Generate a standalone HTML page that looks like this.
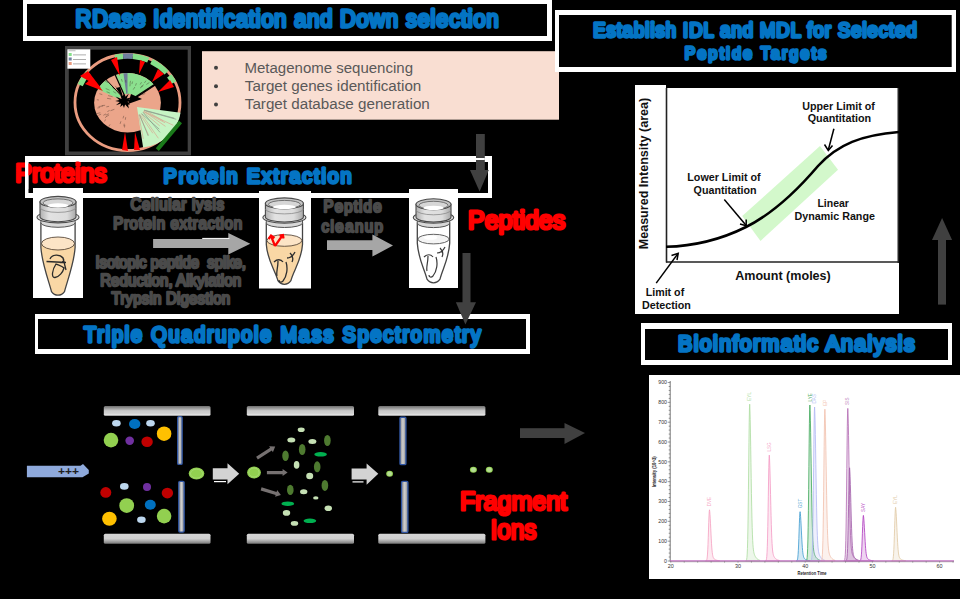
<!DOCTYPE html>
<html><head><meta charset="utf-8">
<style>
html,body{margin:0;padding:0;background:#000;}
body{width:960px;height:599px;overflow:hidden;}
svg{display:block;}
text{font-family:"Liberation Sans",sans-serif;}
.ttl{fill:#0474C4;stroke:#0474C4;stroke-width:3.3;stroke-linejoin:round;}
.red{fill:#FF0000;stroke:#FF0000;stroke-width:3;stroke-linejoin:round;}
.gt{fill:#4a4a4a;stroke:#4a4a4a;stroke-width:2.4;stroke-linejoin:round;}
.bt{fill:#595959;}
.gb{font-weight:bold;fill:#111;}
</style></head>
<body>
<svg width="960" height="599" viewBox="0 0 960 599">
<defs>
 <linearGradient id="barT" x1="0" y1="0" x2="0" y2="1">
  <stop offset="0" stop-color="#6e6e6e"/><stop offset="0.5" stop-color="#cbcbcb"/><stop offset="0.76" stop-color="#d0d0d0"/><stop offset="0.82" stop-color="#e2e2e2"/><stop offset="1" stop-color="#dcdcdc"/>
 </linearGradient>
 <linearGradient id="barB" x1="0" y1="0" x2="0" y2="1">
  <stop offset="0" stop-color="#d6d6d6"/><stop offset="0.5" stop-color="#d0d0d0"/><stop offset="1" stop-color="#767676"/>
 </linearGradient>
 <linearGradient id="elec" x1="0" y1="0" x2="1" y2="0">
  <stop offset="0" stop-color="#8a8a8a"/><stop offset="0.5" stop-color="#d0d0d0"/><stop offset="1" stop-color="#8a8a8a"/>
 </linearGradient>
 <linearGradient id="capG" x1="0" y1="0" x2="1" y2="0">
  <stop offset="0" stop-color="#b0b0b0"/><stop offset="0.25" stop-color="#e2e2e2"/><stop offset="0.75" stop-color="#dcdcdc"/><stop offset="1" stop-color="#a8a8a8"/>
 </linearGradient>
</defs>
<rect width="960" height="599" fill="#000"/>

<!-- ===== Box 1: RDase title ===== -->
<rect x="23" y="0" width="529" height="41" fill="#fff"/>
<rect x="27" y="4" width="520" height="32" fill="#000"/>

<!-- ===== Tree ===== -->
<g id="tree">
<rect x="65" y="46" width="126" height="109.3" fill="#404040"/>
<rect x="68.8" y="49.7" width="118.9" height="101.8" fill="#000"/>
<ellipse cx="127.5" cy="102.5" rx="52.5" ry="48" fill="none" stroke="#EA9C80" stroke-width="2.8"/>
<path d="M80.21,85.08 A51.00,46.50 0 0 1 88.43,72.61" fill="none" stroke="#86E08A" stroke-width="5.5"/>
<path d="M115.16,57.38 A51.00,46.50 0 0 1 123.06,56.18" fill="none" stroke="#86E08A" stroke-width="5.5"/>
<path d="M123.06,56.18 A51.00,46.50 0 0 1 132.83,56.25" fill="none" stroke="#6F7F9F" stroke-width="5.5"/>
<path d="M132.83,56.25 A51.00,46.50 0 0 1 148.24,60.02" fill="none" stroke="#86E08A" stroke-width="5.5"/>
<path d="M151.44,61.44 A51.00,46.50 0 0 1 166.57,72.61" fill="none" stroke="#86E08A" stroke-width="5.5"/>
<path d="M169.28,75.83 A51.00,46.50 0 0 1 173.72,82.85" fill="none" stroke="#86E08A" stroke-width="5.5"/>
<ellipse cx="127.5" cy="102.8" rx="33.4" ry="29.7" fill="#EBA58A"/>
<path d="M97.74,89.32 A33.40,29.70 0 0 1 106.03,80.05 L121.07,95.91 A10.00,9.00 0 0 0 118.59,98.71 Z" fill="#8BE08E"/>
<path d="M116.08,74.89 A33.40,29.70 0 0 1 153.82,84.51 L135.38,97.26 A10.00,9.00 0 0 0 124.08,94.34 Z" fill="#8BE08E"/>
<path d="M123.43,73.32 A33.40,29.70 0 0 1 127.50,73.10 L127.50,93.80 A10.00,9.00 0 0 0 126.28,93.87 Z" fill="#6F7C98"/>
<line x1="123.6" y1="98.2" x2="105.6" y2="79.1" stroke="#000" stroke-width="1.0"/>
<line x1="125.3" y1="97.2" x2="114.8" y2="74.1" stroke="#000" stroke-width="1.2"/>
<line x1="132.4" y1="99.3" x2="155.0" y2="84.6" stroke="#000" stroke-width="2.0"/>
<path d="M137.00,107.00 L180.57,112.71 A44.00,41.00 0 0 1 143.12,147.60 Z" fill="#C6F4C4"/>
<line x1="141.3" y1="113.7" x2="158.4" y2="138.3" stroke="#D8A890" stroke-width="0.7"/>
<line x1="139.3" y1="114.7" x2="148.6" y2="135.2" stroke="#D8A890" stroke-width="0.7"/>
<line x1="138.7" y1="114.8" x2="143.3" y2="138.8" stroke="#D8A890" stroke-width="0.7"/>
<line x1="143.1" y1="112.1" x2="159.8" y2="125.9" stroke="#D8A890" stroke-width="0.7"/>
<line x1="143.0" y1="112.3" x2="160.0" y2="132.4" stroke="#8a9a8a" stroke-width="0.7"/>
<line x1="144.3" y1="110.2" x2="174.3" y2="118.2" stroke="#8a9a8a" stroke-width="0.7"/>
<line x1="144.5" y1="109.9" x2="163.1" y2="120.8" stroke="#D8A890" stroke-width="0.7"/>
<line x1="139.9" y1="114.4" x2="152.9" y2="133.3" stroke="#D8A890" stroke-width="0.7"/>
<line x1="143.7" y1="111.4" x2="173.3" y2="125.3" stroke="#D8A890" stroke-width="0.7"/>
<line x1="144.2" y1="110.4" x2="176.3" y2="119.3" stroke="#8a9a8a" stroke-width="0.7"/>
<line x1="143.6" y1="111.5" x2="165.1" y2="122.8" stroke="#D8A890" stroke-width="0.7"/>
<line x1="143.8" y1="111.2" x2="165.5" y2="126.4" stroke="#D8A890" stroke-width="0.7"/>
<line x1="141.5" y1="113.6" x2="159.3" y2="129.2" stroke="#8a9a8a" stroke-width="0.7"/>
<line x1="139.5" y1="114.6" x2="148.2" y2="135.9" stroke="#8a9a8a" stroke-width="0.7"/>
<polygon points="131.9,101.0 127.4,101.8 130.1,104.2 128.1,104.7 128.9,108.6 125.1,104.5 124.0,107.9 122.8,105.0 120.2,107.0 121.1,103.6 115.9,105.2 119.8,102.0 115.2,101.0 119.3,99.9 115.5,96.6 121.6,98.9 120.5,95.6 122.6,96.3 124.0,93.9 125.2,97.1 128.8,93.5 126.7,98.6 130.8,97.5 128.6,99.9" fill="#000"/>
<polygon points="116,88 120,87 124,100" fill="#000"/>
<polygon points="131,94 142,99 128,104" fill="#000"/>
<line x1="121.1" y1="85.9" x2="120.1" y2="83.3" stroke="#3a2a22" stroke-width="0.7" stroke-opacity="0.55"/>
<line x1="110.1" y1="124.4" x2="108.6" y2="126.6" stroke="#3a2a22" stroke-width="0.7" stroke-opacity="0.55"/>
<line x1="109.6" y1="110.4" x2="107.4" y2="111.6" stroke="#3a2a22" stroke-width="0.7" stroke-opacity="0.55"/>
<line x1="116.2" y1="93.3" x2="113.2" y2="91.5" stroke="#3a2a22" stroke-width="0.7" stroke-opacity="0.55"/>
<line x1="122.3" y1="81.7" x2="121.4" y2="79.0" stroke="#3a2a22" stroke-width="0.7" stroke-opacity="0.55"/>
<line x1="106.8" y1="116.2" x2="105.0" y2="117.8" stroke="#3a2a22" stroke-width="0.7" stroke-opacity="0.55"/>
<line x1="98.9" y1="100.0" x2="96.8" y2="99.7" stroke="#3a2a22" stroke-width="0.7" stroke-opacity="0.55"/>
<line x1="116.8" y1="88.1" x2="115.3" y2="85.9" stroke="#3a2a22" stroke-width="0.7" stroke-opacity="0.55"/>
<line x1="112.6" y1="96.7" x2="108.1" y2="95.6" stroke="#3a2a22" stroke-width="0.7" stroke-opacity="0.55"/>
<line x1="102.3" y1="94.6" x2="99.4" y2="93.7" stroke="#3a2a22" stroke-width="0.7" stroke-opacity="0.55"/>
<line x1="146.0" y1="90.4" x2="147.9" y2="88.8" stroke="#3a2a22" stroke-width="0.7" stroke-opacity="0.55"/>
<line x1="135.5" y1="85.7" x2="136.4" y2="83.2" stroke="#3a2a22" stroke-width="0.7" stroke-opacity="0.55"/>
<line x1="123.8" y1="115.8" x2="123.0" y2="118.4" stroke="#3a2a22" stroke-width="0.7" stroke-opacity="0.55"/>
<line x1="140.2" y1="84.5" x2="141.5" y2="82.2" stroke="#3a2a22" stroke-width="0.7" stroke-opacity="0.55"/>
<line x1="100.3" y1="112.7" x2="96.5" y2="113.7" stroke="#3a2a22" stroke-width="0.7" stroke-opacity="0.55"/>
<line x1="106.0" y1="119.5" x2="104.2" y2="121.3" stroke="#3a2a22" stroke-width="0.7" stroke-opacity="0.55"/>
<line x1="125.9" y1="82.6" x2="125.7" y2="79.9" stroke="#3a2a22" stroke-width="0.7" stroke-opacity="0.55"/>
<line x1="144.4" y1="82.9" x2="146.0" y2="80.7" stroke="#3a2a22" stroke-width="0.7" stroke-opacity="0.55"/>
<line x1="108.8" y1="113.7" x2="105.8" y2="115.2" stroke="#3a2a22" stroke-width="0.7" stroke-opacity="0.55"/>
<line x1="114.4" y1="109.3" x2="110.5" y2="110.7" stroke="#3a2a22" stroke-width="0.7" stroke-opacity="0.55"/>
<line x1="124.2" y1="123.7" x2="123.9" y2="126.3" stroke="#3a2a22" stroke-width="0.7" stroke-opacity="0.55"/>
<line x1="103.1" y1="106.1" x2="98.6" y2="106.5" stroke="#3a2a22" stroke-width="0.7" stroke-opacity="0.55"/>
<line x1="147.9" y1="89.1" x2="151.8" y2="87.4" stroke="#3a2a22" stroke-width="0.7" stroke-opacity="0.55"/>
<line x1="130.0" y1="83.5" x2="130.5" y2="80.8" stroke="#3a2a22" stroke-width="0.7" stroke-opacity="0.55"/>
<line x1="106.0" y1="113.9" x2="103.4" y2="115.3" stroke="#3a2a22" stroke-width="0.7" stroke-opacity="0.55"/>
<line x1="140.0" y1="88.1" x2="142.9" y2="86.0" stroke="#3a2a22" stroke-width="0.7" stroke-opacity="0.55"/>
<line x1="131.9" y1="84.1" x2="132.6" y2="81.5" stroke="#3a2a22" stroke-width="0.7" stroke-opacity="0.55"/>
<line x1="141.2" y1="93.5" x2="143.7" y2="91.8" stroke="#3a2a22" stroke-width="0.7" stroke-opacity="0.55"/>
<line x1="129.9" y1="86.3" x2="130.2" y2="83.6" stroke="#3a2a22" stroke-width="0.7" stroke-opacity="0.55"/>
<line x1="109.9" y1="93.1" x2="106.6" y2="91.7" stroke="#3a2a22" stroke-width="0.7" stroke-opacity="0.55"/>
<line x1="140.9" y1="86.8" x2="143.8" y2="84.7" stroke="#3a2a22" stroke-width="0.7" stroke-opacity="0.55"/>
<line x1="100.1" y1="107.5" x2="97.4" y2="108.0" stroke="#3a2a22" stroke-width="0.7" stroke-opacity="0.55"/>
<line x1="142.1" y1="94.8" x2="145.3" y2="93.4" stroke="#3a2a22" stroke-width="0.7" stroke-opacity="0.55"/>
<line x1="111.2" y1="99.0" x2="107.0" y2="98.3" stroke="#3a2a22" stroke-width="0.7" stroke-opacity="0.55"/>
<line x1="107.8" y1="82.7" x2="104.6" y2="80.7" stroke="#3a2a22" stroke-width="0.7" stroke-opacity="0.55"/>
<line x1="133.2" y1="89.6" x2="134.9" y2="87.0" stroke="#3a2a22" stroke-width="0.7" stroke-opacity="0.55"/>
<line x1="109.1" y1="114.9" x2="106.5" y2="116.5" stroke="#3a2a22" stroke-width="0.7" stroke-opacity="0.55"/>
<line x1="124.8" y1="124.8" x2="124.5" y2="127.5" stroke="#3a2a22" stroke-width="0.7" stroke-opacity="0.55"/>
<line x1="114.3" y1="89.3" x2="112.2" y2="87.3" stroke="#3a2a22" stroke-width="0.7" stroke-opacity="0.55"/>
<line x1="146.3" y1="84.5" x2="149.4" y2="82.5" stroke="#3a2a22" stroke-width="0.7" stroke-opacity="0.55"/>
<line x1="109.6" y1="90.2" x2="105.7" y2="88.5" stroke="#3a2a22" stroke-width="0.7" stroke-opacity="0.55"/>
<line x1="109.1" y1="106.3" x2="106.3" y2="106.9" stroke="#3a2a22" stroke-width="0.7" stroke-opacity="0.55"/>
<line x1="101.1" y1="114.1" x2="98.5" y2="115.3" stroke="#3a2a22" stroke-width="0.7" stroke-opacity="0.55"/>
<line x1="125.7" y1="117.2" x2="125.3" y2="119.8" stroke="#3a2a22" stroke-width="0.7" stroke-opacity="0.55"/>
<line x1="105.1" y1="105.3" x2="101.7" y2="105.6" stroke="#3a2a22" stroke-width="0.7" stroke-opacity="0.55"/>
<line x1="120.9" y1="121.3" x2="120.1" y2="123.9" stroke="#3a2a22" stroke-width="0.7" stroke-opacity="0.55"/>
<polygon points="80,76 88,71 101,88" fill="#FF0000"/>
<polygon points="85,84 92,78 103,91" fill="#FF0000"/>
<polygon points="111,60 117,57 120,76" fill="#FF0000"/>
<polygon points="140,60 145,62 139,74" fill="#FF0000"/>
<polygon points="158,69 164,74 152,82" fill="#FF0000"/>
<polygon points="170,80 174,87 158,92" fill="#FF0000"/>
<polygon points="122,150 128,151 125,132" fill="#FF0000"/>
<polygon points="134,150 140,150 135,132" fill="#FF0000"/>
<line x1="180.5" y1="122" x2="157.3" y2="149.6" stroke="#1A7A1A" stroke-width="4"/>
<rect x="67.4" y="49.3" width="22.9" height="19.4" fill="#fff"/>
<rect x="68.7" y="53" width="3" height="3" fill="#86E08A"/>
<rect x="68.7" y="57.5" width="3" height="3" fill="#6F7F9F"/>
<rect x="68.7" y="62" width="3" height="3" fill="#EA9C80"/>
<rect x="73" y="54.5" width="13" height="0.8" fill="#999"/>
<rect x="73" y="59.0" width="13" height="0.8" fill="#999"/>
<rect x="73" y="63.5" width="13" height="0.8" fill="#999"/>
<rect x="68.5" y="50.4" width="7" height="0.8" fill="#aaa"/>
</g>
<!-- ===== Pink bullet box ===== -->
<rect x="202" y="51.2" width="357" height="68.5" fill="#F9DED2"/>

<!-- ===== Box 2: Establish ===== -->
<rect x="555" y="10" width="401" height="62" fill="#fff"/>
<rect x="559" y="15" width="392.7" height="52" fill="#000"/>

<!-- ===== Protein Extraction box ===== -->
<rect x="25" y="156" width="467" height="42" fill="#fff"/>
<rect x="28.5" y="162" width="459.5" height="31" fill="#000"/>

<!-- ===== Triple Quad box ===== -->
<rect x="35" y="314" width="495" height="40" fill="#fff"/>
<rect x="38" y="319" width="488" height="30" fill="#000"/>

<!-- ===== Bioinformatic box ===== -->
<rect x="641" y="323" width="311" height="42" fill="#fff"/>
<rect x="645" y="329" width="303" height="31" fill="#000"/>

<!-- ===== Tubes ===== -->
<g id="tubes">
<rect x="33.0" y="188.0" width="50.0" height="110.0" fill="#fff"/>
<path d="M40.9,243.5 L40.9,247.5 C41.9,263.5 49.0,281.6 51.5,291.6 C55.0,296.4 61.0,296.4 64.5,291.6 C67.0,281.6 74.1,263.5 75.1,247.5 L75.1,243.5 Z" fill="#F9D7A5"/>
<ellipse cx="58.0" cy="243.5" rx="16.5" ry="6.5" fill="#FCE4C6" stroke="#5a4a3a" stroke-width="0.9"/>
<path d="M40.9,222.3 L40.9,247.5 C41.9,263.5 49.0,281.6 51.5,291.6 C55.0,296.4 61.0,296.4 64.5,291.6 C67.0,281.6 74.1,263.5 75.1,247.5 L75.1,222.3" fill="none" stroke="#444" stroke-width="1.3"/>
<path d="M40.9,217.3 L40.9,222.8 A17.1,4.5 0 0 0 75.1,222.8 L75.1,217.3 Z" fill="#d8d8d8" stroke="#555" stroke-width="1"/>
<ellipse cx="58.0" cy="217.3" rx="21.0" ry="5.6" fill="#e4e4e4" stroke="#4a4a4a" stroke-width="1.1"/>
<path d="M40.0,201.9 L40.0,216.8 A18.0,5 0 0 0 76.0,216.8 L76.0,201.9 Z" fill="url(#capG)" stroke="#4a4a4a" stroke-width="1.1"/>
<path d="M40.0,207.4 A18.0,5 0 0 0 76.0,207.4" fill="none" stroke="#8a8a8a" stroke-width="0.8"/>
<ellipse cx="58.0" cy="201.9" rx="18.0" ry="5.5" fill="#c4c4c4" stroke="#4a4a4a" stroke-width="1.1"/>
<ellipse cx="58.0" cy="202.9" rx="15.0" ry="4" fill="#d6d6d6" stroke="#666" stroke-width="0.9"/>
<ellipse cx="58.0" cy="205.5" rx="10.5" ry="2.2" fill="#fff"/>
<path d="M50,259 C52,254 60,254 63,258 C65,261 62,264 58,262 M46.5,261.5 L66,262.5 M56,264 C52,270 51,278 55,277.5 C59,277 63,272 64,268 C62,266 58,265 56,264 Z M63,258 L66,270" fill="none" stroke="#2a2a2a" stroke-width="1.3"/>

<rect x="259.0" y="191.0" width="52.0" height="97.5" fill="#fff"/>
<path d="M266.3,240.5 L266.3,244.5 C267.3,260.5 275.4,270.7 277.9,280.7 C281.4,285.5 287.4,285.5 290.9,280.7 C293.4,270.7 301.5,260.5 302.5,244.5 L302.5,240.5 Z" fill="#F9D7A5"/>
<ellipse cx="284.4" cy="240.5" rx="17.5" ry="5.8" fill="#FCE4C6" stroke="#5a4a3a" stroke-width="0.9"/>
<path d="M266.3,222.5 L266.3,244.5 C267.3,260.5 275.4,270.7 277.9,280.7 C281.4,285.5 287.4,285.5 290.9,280.7 C293.4,270.7 301.5,260.5 302.5,244.5 L302.5,222.5" fill="none" stroke="#444" stroke-width="1.3"/>
<path d="M266.3,217.5 L266.3,223.0 A18.1,4.5 0 0 0 302.5,223.0 L302.5,217.5 Z" fill="#d8d8d8" stroke="#555" stroke-width="1"/>
<ellipse cx="284.4" cy="217.5" rx="21.5" ry="5.6" fill="#e4e4e4" stroke="#4a4a4a" stroke-width="1.1"/>
<path d="M265.4,203.4 L265.4,217.0 A19.0,5 0 0 0 303.4,217.0 L303.4,203.4 Z" fill="url(#capG)" stroke="#4a4a4a" stroke-width="1.1"/>
<path d="M265.4,208.9 A19.0,5 0 0 0 303.4,208.9" fill="none" stroke="#8a8a8a" stroke-width="0.8"/>
<ellipse cx="284.4" cy="203.4" rx="19.0" ry="5.5" fill="#c4c4c4" stroke="#4a4a4a" stroke-width="1.1"/>
<ellipse cx="284.4" cy="204.4" rx="16.0" ry="4" fill="#d6d6d6" stroke="#666" stroke-width="0.9"/>
<ellipse cx="284.4" cy="207.0" rx="11.5" ry="2.2" fill="#fff"/>
<path d="M274,262 C277,259 281,259 283,262 M278,261 C278,268 276,272 277,276 M286,262 C288,268 287,276 283,281 C281,283 279,282 279,280 M287,258 C290,258 293,256 295,252 M290,253 C292,255 294,258 292,262" fill="none" stroke="#2e2e2e" stroke-width="1.3"/>
<path d="M275,246 L271,236 M268.5,239 L271,235.5 L274.5,238 M275,246 L282,236 M279.5,235.5 L283,235 L283.5,238.5" fill="none" stroke="#FF0000" stroke-width="2.2"/>
<rect x="409.0" y="189.0" width="49.0" height="99.0" fill="#fff"/>
<ellipse cx="433.5" cy="239.1" rx="15.6" ry="4.8" fill="#f4f4f4" stroke="#555" stroke-width="0.9"/>
<ellipse cx="430.5" cy="237.6" rx="7.0" ry="2.2" fill="#fff"/>
<path d="M417.3,222.6 L417.3,243.1 C418.3,259.1 424.5,269.2 427.0,279.2 C430.5,284.0 436.5,284.0 440.0,279.2 C442.5,269.2 448.7,259.1 449.7,243.1 L449.7,222.6" fill="none" stroke="#444" stroke-width="1.3"/>
<path d="M417.3,217.6 L417.3,223.1 A16.2,4.5 0 0 0 449.7,223.1 L449.7,217.6 Z" fill="#d8d8d8" stroke="#555" stroke-width="1"/>
<ellipse cx="433.5" cy="217.6" rx="20.2" ry="5.6" fill="#e4e4e4" stroke="#4a4a4a" stroke-width="1.1"/>
<path d="M416.0,204.3 L416.0,217.1 A17.5,5 0 0 0 451.0,217.1 L451.0,204.3 Z" fill="url(#capG)" stroke="#4a4a4a" stroke-width="1.1"/>
<path d="M416.0,209.8 A17.5,5 0 0 0 451.0,209.8" fill="none" stroke="#8a8a8a" stroke-width="0.8"/>
<ellipse cx="433.5" cy="204.3" rx="17.5" ry="5.5" fill="#c4c4c4" stroke="#4a4a4a" stroke-width="1.1"/>
<ellipse cx="433.5" cy="205.3" rx="14.5" ry="4" fill="#d6d6d6" stroke="#666" stroke-width="0.9"/>
<ellipse cx="433.5" cy="207.9" rx="10.0" ry="2.2" fill="#fff"/>
<path d="M424,257 C427,254 431,254 433,257 M428,256 C428,263 426,267 427,271 M436,257 C438,263 437,271 433,276 C431,278 429,277 429,275 M437,253 C440,253 443,251 445,247 M440,248 C442,250 444,253 442,257" fill="none" stroke="#3a3a3a" stroke-width="1.2"/>

</g>
<!-- ===== Graph white ===== -->
<rect x="635" y="85" width="264" height="229" fill="#fff"/>

<!-- ===== Chromatogram white ===== -->
<rect x="649" y="375" width="311" height="204" fill="#fff"/>


<!-- ===== Titles ===== -->
<!--TT_START-->
<text class="ttl" transform="scale(0.940,1)" x="80.43" y="27.32" font-size="23.22" textLength="450.02" lengthAdjust="spacing">RDase Identification and Down selection</text>
<text class="ttl" transform="scale(0.940,1)" x="631.09" y="36.56" font-size="19.60" textLength="344.04" lengthAdjust="spacing">Establish IDL and MDL for Selected</text>
<text class="ttl" transform="scale(0.940,1)" x="728.45" y="59.48" font-size="16.65" textLength="150.49" lengthAdjust="spacing">Peptide Targets</text>
<text class="ttl" transform="scale(0.940,1)" x="174.00" y="183.32" font-size="21.10" textLength="200.06" lengthAdjust="spacing">Protein Extraction</text>
<text class="ttl" transform="scale(0.940,1)" x="89.38" y="342.20" font-size="21.15" textLength="421.98" lengthAdjust="spacing">Triple Quadrupole Mass Spectrometry</text>
<text class="ttl" transform="scale(0.940,1)" x="721.36" y="351.40" font-size="22.81" textLength="251.64" lengthAdjust="spacing">Bioinformatic Analysis</text>
<text class="red" x="15.38" y="181.68" font-size="24.88" textLength="91.44" lengthAdjust="spacingAndGlyphs">Proteins</text>
<text class="red" x="468.00" y="229.20" font-size="25.02" textLength="97.20" lengthAdjust="spacingAndGlyphs">Peptides</text>
<text class="red" x="460.00" y="509.56" font-size="26.70" textLength="107.02" lengthAdjust="spacingAndGlyphs">Fragment</text>
<text class="red" x="490.38" y="539.20" font-size="27.26" textLength="45.96" lengthAdjust="spacingAndGlyphs">Ions</text>
<!--TT_END-->

<!-- ===== Red labels ===== -->

<!-- ===== Bullets ===== -->
<g class="bt" font-size="14.9">
<circle cx="216" cy="67.8" r="2" fill="#404040"/>
<circle cx="216" cy="86.3" r="2" fill="#404040"/>
<circle cx="216" cy="104.6" r="2" fill="#404040"/>
<text x="244.5" y="72.7" textLength="168.5" lengthAdjust="spacingAndGlyphs">Metagenome sequencing</text>
<text x="244.8" y="91.2" textLength="176.5" lengthAdjust="spacingAndGlyphs">Target genes identification</text>
<text x="244.8" y="109.4" textLength="185" lengthAdjust="spacingAndGlyphs">Target database generation</text>
</g>

<!-- ===== Graph ===== -->
<g>
<rect x="666" y="85" width="233" height="3" fill="#000"/>
<polygon points="820,146 838,169.7 760.5,241 742.2,216" fill="#D3F8CB"/>
<line x1="666.5" y1="88" x2="666.5" y2="262.5" stroke="#222" stroke-width="1.6"/>
<line x1="666" y1="262" x2="899" y2="262" stroke="#222" stroke-width="1.6"/>
<line x1="898.3" y1="88" x2="898.3" y2="263" stroke="#222" stroke-width="1.6"/>
<path d="M666,246.8 C690,246.2 718,241 746,227 C770,215 795,193 818,166 C838,144 862,135 899,132" fill="none" stroke="#000" stroke-width="2.6"/>
<g stroke="#000" stroke-width="1.5" fill="none">
<line x1="833.9" y1="128.8" x2="828.4" y2="149.5"/>
<path d="M824.5,144.5 L828.3,150.5 L832.5,145.5"/>
<line x1="724.3" y1="199.6" x2="745.8" y2="225"/>
<path d="M740,224 L746.2,225.8 L746.2,219.5"/>
<line x1="656.2" y1="283.1" x2="677.8" y2="253.8"/>
<path d="M671.5,255.5 L678.2,253.4 L677,260"/>
</g>
<g class="gb" font-size="10.6" fill="#111">
<text x="802.3" y="110.3" textLength="72.5" lengthAdjust="spacingAndGlyphs">Upper Limit of</text>
<text x="807.7" y="122.4" textLength="63.5" lengthAdjust="spacingAndGlyphs">Quantitation</text>
<text x="687.3" y="181.1" textLength="73.3" lengthAdjust="spacingAndGlyphs">Lower Limit of</text>
<text x="693.6" y="193.6" textLength="63" lengthAdjust="spacingAndGlyphs">Quantitation</text>
<text x="817.4" y="206.5" textLength="31.5" lengthAdjust="spacingAndGlyphs">Linear</text>
<text x="794.6" y="219.7" textLength="80.3" lengthAdjust="spacingAndGlyphs">Dynamic Range</text>
<text x="645.7" y="296.3" textLength="38.5" lengthAdjust="spacingAndGlyphs">Limit of</text>
<text x="641.9" y="308.5" textLength="49" lengthAdjust="spacingAndGlyphs">Detection</text>
<text x="735.2" y="280.3" font-size="12.8" textLength="95.6" lengthAdjust="spacingAndGlyphs">Amount (moles)</text>
<text transform="translate(648,249.3) rotate(-90)" x="0" y="0" font-size="12.3" textLength="151.5" lengthAdjust="spacingAndGlyphs">Measured Intensity (area)</text>
</g>
</g>

<!-- ===== Dark arrows ===== -->
<g fill="#404040">
<rect x="476" y="134" width="8.8" height="37"/>
<polygon points="470,170.1 488.8,170.1 479.6,191.6"/>
<rect x="462.5" y="253" width="8" height="50"/>
<polygon points="455.9,302.3 476,302.3 465.4,324.6"/>
<rect x="938" y="239" width="8" height="65.6"/>
<polygon points="932,240 952.1,240 942.1,218"/>
<rect x="520" y="428.2" width="45" height="9.8"/>
<polygon points="564.5,422.9 585,433.1 564.5,443.9"/>
</g>
<rect x="476" y="158" width="8.8" height="2" fill="#fff"/>
<!-- ===== Chromatogram ===== -->
<g id="chrom">
<path d="M705.50,561.00 L705.50,560.98 L705.75,560.95 L706.00,560.89 L706.25,560.74 L706.50,560.43 L706.75,559.83 L707.00,558.75 L707.25,556.93 L707.50,554.07 L707.75,549.93 L708.00,544.38 L708.25,537.56 L708.50,529.95 L708.75,522.35 L709.00,515.82 L709.25,511.38 L709.50,509.80 L709.75,511.68 L710.00,514.78 L710.25,518.89 L710.50,523.72 L710.75,528.90 L711.00,534.08 L711.25,538.95 L711.50,543.31 L711.75,547.03 L712.00,550.06 L712.25,552.46 L712.50,554.28 L712.75,555.65 L713.00,556.64 L713.25,557.38 L713.50,557.91 L713.75,558.32 L714.00,558.64 L714.25,558.89 L714.50,559.11 L714.75,559.29 L715.00,559.45 L715.25,559.60 L715.50,559.73 L715.75,559.84 L716.00,559.95 L716.25,560.05 L716.50,560.13 L716.75,560.21 L717.00,560.28 L717.25,560.35 L717.50,560.41 L717.75,560.46 L718.00,560.51 L718.25,560.56 L718.50,560.60 L718.75,560.64 L719.00,560.67 L719.25,560.70 L719.50,560.73 L719.50,561.00 Z" fill="#F5A0C0" fill-opacity="0.22" stroke="#F5A0C0" stroke-width="0.9" stroke-opacity="0.9"/>
<text transform="translate(711.1,506.3) rotate(-90)" font-size="4.6" fill="#F5A0C0" fill-opacity="0.9">DVE</text>
<path d="M745.70,561.00 L745.70,560.95 L745.95,560.86 L746.20,560.66 L746.45,560.20 L746.70,559.26 L746.95,557.43 L747.20,554.11 L747.45,548.53 L747.70,539.78 L747.95,527.09 L748.20,510.09 L748.45,489.21 L748.70,465.90 L748.95,442.64 L749.20,422.62 L749.45,409.02 L749.70,404.20 L749.95,409.95 L750.20,419.44 L750.45,432.05 L750.70,446.83 L750.95,462.69 L751.20,478.55 L751.45,493.48 L751.70,506.82 L751.95,518.20 L752.20,527.51 L752.45,534.84 L752.70,540.43 L752.95,544.60 L753.20,547.66 L753.45,549.90 L753.70,551.55 L753.95,552.79 L754.20,553.76 L754.45,554.54 L754.70,555.20 L754.95,555.76 L755.20,556.26 L755.45,556.70 L755.70,557.10 L755.95,557.46 L756.20,557.78 L756.45,558.08 L756.70,558.35 L756.95,558.59 L757.20,558.81 L757.45,559.01 L757.70,559.19 L757.95,559.36 L758.20,559.51 L758.45,559.65 L758.70,559.77 L758.95,559.88 L759.20,559.99 L759.45,560.08 L759.70,560.16 L759.70,561.00 Z" fill="#ACDCA0" fill-opacity="0.22" stroke="#ACDCA0" stroke-width="0.9" stroke-opacity="0.9"/>
<text transform="translate(751.3,400.7) rotate(-90)" font-size="4.6" fill="#ACDCA0" fill-opacity="0.9">EYL</text>
<path d="M765.30,561.00 L765.30,560.96 L765.55,560.91 L765.80,560.77 L766.05,560.46 L766.30,559.82 L766.55,558.59 L766.80,556.35 L767.05,552.57 L767.30,546.67 L767.55,538.10 L767.80,526.62 L768.05,512.52 L768.30,496.77 L768.55,481.06 L768.80,467.54 L769.05,458.36 L769.30,455.10 L769.55,458.98 L769.80,465.39 L770.05,473.91 L770.30,483.89 L770.55,494.60 L770.80,505.31 L771.05,515.40 L771.30,524.41 L771.55,532.10 L771.80,538.38 L772.05,543.33 L772.30,547.11 L772.55,549.93 L772.80,551.99 L773.05,553.50 L773.30,554.62 L773.55,555.46 L773.80,556.11 L774.05,556.64 L774.30,557.08 L774.55,557.46 L774.80,557.80 L775.05,558.10 L775.30,558.36 L775.55,558.61 L775.80,558.83 L776.05,559.03 L776.30,559.21 L776.55,559.37 L776.80,559.52 L777.05,559.66 L777.30,559.78 L777.55,559.89 L777.80,559.99 L778.05,560.09 L778.30,560.17 L778.55,560.25 L778.80,560.31 L779.05,560.38 L779.30,560.43 L779.30,561.00 Z" fill="#F49AC4" fill-opacity="0.22" stroke="#F49AC4" stroke-width="0.9" stroke-opacity="0.9"/>
<text transform="translate(770.9,451.6) rotate(-90)" font-size="4.6" fill="#F49AC4" fill-opacity="0.9">LSG</text>
<path d="M796.10,561.00 L796.10,560.98 L796.35,560.96 L796.60,560.89 L796.85,560.75 L797.10,560.45 L797.35,559.88 L797.60,558.83 L797.85,557.08 L798.10,554.33 L798.35,550.34 L798.60,544.99 L798.85,538.43 L799.10,531.10 L799.35,523.79 L799.60,517.49 L799.85,513.22 L800.10,511.70 L800.35,513.51 L800.60,516.49 L800.85,520.46 L801.10,525.10 L801.35,530.09 L801.60,535.08 L801.85,539.77 L802.10,543.97 L802.35,547.54 L802.60,550.47 L802.85,552.77 L803.10,554.53 L803.35,555.84 L803.60,556.81 L803.85,557.51 L804.10,558.03 L804.35,558.42 L804.60,558.72 L804.85,558.97 L805.10,559.18 L805.35,559.35 L805.60,559.51 L805.85,559.65 L806.10,559.77 L806.35,559.89 L806.60,559.99 L806.85,560.08 L807.10,560.17 L807.35,560.24 L807.60,560.31 L807.85,560.37 L808.10,560.43 L808.35,560.48 L808.60,560.53 L808.85,560.57 L809.10,560.61 L809.35,560.65 L809.60,560.68 L809.85,560.71 L810.10,560.74 L810.10,561.00 Z" fill="#3D9BD0" fill-opacity="0.22" stroke="#3D9BD0" stroke-width="0.9" stroke-opacity="0.9"/>
<text transform="translate(801.7,508.2) rotate(-90)" font-size="4.6" fill="#3D9BD0" fill-opacity="0.9">GST</text>
<path d="M805.90,561.00 L805.90,560.95 L806.15,560.86 L806.40,560.66 L806.65,560.21 L806.90,559.27 L807.15,557.44 L807.40,554.15 L807.65,548.59 L807.90,539.89 L808.15,527.26 L808.40,510.35 L808.65,489.58 L808.90,466.38 L809.15,443.25 L809.40,423.33 L809.65,409.80 L809.90,405.00 L810.15,410.72 L810.40,420.16 L810.65,432.71 L810.90,447.42 L811.15,463.19 L811.40,478.97 L811.65,493.82 L811.90,507.10 L812.15,518.42 L812.40,527.68 L812.65,534.97 L812.90,540.54 L813.15,544.69 L813.40,547.73 L813.65,549.96 L813.90,551.60 L814.15,552.84 L814.40,553.80 L814.65,554.58 L814.90,555.23 L815.15,555.79 L815.40,556.28 L815.65,556.72 L815.90,557.12 L816.15,557.47 L816.40,557.80 L816.65,558.09 L816.90,558.36 L817.15,558.60 L817.40,558.82 L817.65,559.02 L817.90,559.20 L818.15,559.37 L818.40,559.52 L818.65,559.65 L818.90,559.78 L819.15,559.89 L819.40,559.99 L819.65,560.08 L819.90,560.17 L819.90,561.00 Z" fill="#3FA85A" fill-opacity="0.22" stroke="#3FA85A" stroke-width="0.9" stroke-opacity="0.9"/>
<text transform="translate(811.5,401.5) rotate(-90)" font-size="4.6" fill="#3FA85A" fill-opacity="0.9">LYE</text>
<path d="M810.60,561.00 L810.60,560.95 L810.85,560.86 L811.10,560.66 L811.35,560.22 L811.60,559.29 L811.85,557.49 L812.10,554.23 L812.35,548.75 L812.60,540.16 L812.85,527.70 L813.10,511.00 L813.35,490.49 L813.60,467.59 L813.85,444.75 L814.10,425.10 L814.35,411.74 L814.60,407.00 L814.85,412.65 L815.10,421.97 L815.35,434.35 L815.60,448.87 L815.85,464.45 L816.10,480.02 L816.35,494.68 L816.60,507.79 L816.85,518.97 L817.10,528.10 L817.35,535.30 L817.60,540.80 L817.85,544.89 L818.10,547.90 L818.35,550.10 L818.60,551.72 L818.85,552.94 L819.10,553.89 L819.35,554.66 L819.60,555.30 L819.85,555.86 L820.10,556.34 L820.35,556.78 L820.60,557.17 L820.85,557.52 L821.10,557.84 L821.35,558.13 L821.60,558.39 L821.85,558.63 L822.10,558.85 L822.35,559.05 L822.60,559.23 L822.85,559.39 L823.10,559.54 L823.35,559.67 L823.60,559.79 L823.85,559.90 L824.10,560.00 L824.35,560.09 L824.60,560.18 L824.60,561.00 Z" fill="#B0B8F4" fill-opacity="0.22" stroke="#B0B8F4" stroke-width="0.9" stroke-opacity="0.9"/>
<text transform="translate(816.2,403.5) rotate(-90)" font-size="4.6" fill="#B0B8F4" fill-opacity="0.9">DAS</text>
<path d="M820.90,561.00 L820.90,560.95 L821.15,560.87 L821.40,560.67 L821.65,560.23 L821.90,559.31 L822.15,557.54 L822.40,554.33 L822.65,548.92 L822.90,540.46 L823.15,528.17 L823.40,511.72 L823.65,491.50 L823.90,468.93 L824.15,446.42 L824.40,427.04 L824.65,413.87 L824.90,409.20 L825.15,414.76 L825.40,423.96 L825.65,436.16 L825.90,450.47 L826.15,465.83 L826.40,481.18 L826.65,495.63 L826.90,508.55 L827.15,519.57 L827.40,528.57 L827.65,535.67 L827.90,541.09 L828.15,545.12 L828.40,548.09 L828.65,550.25 L828.90,551.85 L829.15,553.05 L829.40,553.99 L829.65,554.75 L829.90,555.38 L830.15,555.93 L830.40,556.41 L830.65,556.84 L830.90,557.22 L831.15,557.57 L831.40,557.88 L831.65,558.17 L831.90,558.43 L832.15,558.67 L832.40,558.88 L832.65,559.07 L832.90,559.25 L833.15,559.41 L833.40,559.56 L833.65,559.69 L833.90,559.81 L834.15,559.92 L834.40,560.02 L834.65,560.11 L834.90,560.19 L834.90,561.00 Z" fill="#F2C0AC" fill-opacity="0.22" stroke="#F2C0AC" stroke-width="0.9" stroke-opacity="0.9"/>
<text transform="translate(826.5,405.7) rotate(-90)" font-size="4.6" fill="#F2C0AC" fill-opacity="0.9">EP</text>
<path d="M843.80,561.00 L843.80,560.95 L844.05,560.87 L844.30,560.67 L844.55,560.22 L844.80,559.30 L845.05,557.52 L845.30,554.30 L845.55,548.86 L845.80,540.35 L846.05,528.00 L846.30,511.46 L846.55,491.13 L846.80,468.44 L847.05,445.81 L847.30,426.33 L847.55,413.10 L847.80,408.40 L848.05,413.99 L848.30,423.23 L848.55,435.51 L848.80,449.89 L849.05,465.33 L849.30,480.76 L849.55,495.29 L849.80,508.27 L850.05,519.35 L850.30,528.40 L850.55,535.54 L850.80,540.98 L851.05,545.04 L851.30,548.02 L851.55,550.20 L851.80,551.80 L852.05,553.01 L852.30,553.96 L852.55,554.72 L852.80,555.35 L853.05,555.90 L853.30,556.38 L853.55,556.81 L853.80,557.20 L854.05,557.55 L854.30,557.87 L854.55,558.16 L854.80,558.42 L855.05,558.65 L855.30,558.87 L855.55,559.06 L855.80,559.24 L856.05,559.40 L856.30,559.55 L856.55,559.68 L856.80,559.80 L857.05,559.91 L857.30,560.01 L857.55,560.10 L857.80,560.19 L857.80,561.00 Z" fill="#B46CB4" fill-opacity="0.22" stroke="#B46CB4" stroke-width="0.9" stroke-opacity="0.9"/>
<text transform="translate(849.4,404.9) rotate(-90)" font-size="4.6" fill="#B46CB4" fill-opacity="0.9">SIS</text>
<path d="M845.60,561.00 L845.60,560.97 L845.85,560.92 L846.10,560.80 L846.35,560.53 L846.60,559.96 L846.85,558.88 L847.10,556.91 L847.35,553.59 L847.60,548.39 L847.85,540.84 L848.10,530.74 L848.35,518.33 L848.60,504.47 L848.85,490.65 L849.10,478.75 L849.35,470.67 L849.60,467.80 L849.85,471.22 L850.10,476.86 L850.35,484.35 L850.60,493.14 L850.85,502.57 L851.10,511.99 L851.35,520.87 L851.60,528.80 L851.85,535.56 L852.10,541.09 L852.35,545.45 L852.60,548.77 L852.85,551.25 L853.10,553.07 L853.35,554.40 L853.60,555.38 L853.85,556.12 L854.10,556.70 L854.35,557.16 L854.60,557.55 L854.85,557.89 L855.10,558.18 L855.35,558.44 L855.60,558.68 L855.85,558.89 L856.10,559.09 L856.35,559.26 L856.60,559.42 L856.85,559.57 L857.10,559.70 L857.35,559.82 L857.60,559.93 L857.85,560.02 L858.10,560.11 L858.35,560.20 L858.60,560.27 L858.85,560.34 L859.10,560.40 L859.35,560.45 L859.60,560.50 L859.60,561.00 Z" fill="#A05CA8" fill-opacity="0.22" stroke="#A05CA8" stroke-width="0.9" stroke-opacity="0.9"/>
<path d="M859.40,561.00 L859.40,560.98 L859.65,560.96 L859.90,560.90 L860.15,560.77 L860.40,560.49 L860.65,559.96 L860.90,559.00 L861.15,557.37 L861.40,554.83 L861.65,551.14 L861.90,546.20 L862.15,540.12 L862.40,533.34 L862.65,526.58 L862.90,520.76 L863.15,516.80 L863.40,515.40 L863.65,517.07 L863.90,519.83 L864.15,523.50 L864.40,527.80 L864.65,532.41 L864.90,537.02 L865.15,541.36 L865.40,545.24 L865.65,548.55 L865.90,551.26 L866.15,553.39 L866.40,555.02 L866.65,556.23 L866.90,557.12 L867.15,557.77 L867.40,558.25 L867.65,558.61 L867.90,558.89 L868.15,559.12 L868.40,559.31 L868.65,559.48 L868.90,559.62 L869.15,559.75 L869.40,559.86 L869.65,559.97 L869.90,560.06 L870.15,560.15 L870.40,560.23 L870.65,560.30 L870.90,560.36 L871.15,560.42 L871.40,560.47 L871.65,560.52 L871.90,560.57 L872.15,560.61 L872.40,560.64 L872.65,560.68 L872.90,560.70 L873.15,560.73 L873.40,560.76 L873.40,561.00 Z" fill="#B03CC0" fill-opacity="0.22" stroke="#B03CC0" stroke-width="0.9" stroke-opacity="0.9"/>
<text transform="translate(865.0,511.9) rotate(-90)" font-size="4.6" fill="#B03CC0" fill-opacity="0.9">SAY</text>
<path d="M891.60,561.00 L891.60,560.98 L891.85,560.95 L892.10,560.88 L892.35,560.73 L892.60,560.40 L892.85,559.78 L893.10,558.64 L893.35,556.73 L893.60,553.73 L893.85,549.39 L894.10,543.57 L894.35,536.41 L894.60,528.43 L894.85,520.47 L895.10,513.61 L895.35,508.95 L895.60,507.30 L895.85,509.27 L896.10,512.52 L896.35,516.84 L896.60,521.90 L896.85,527.33 L897.10,532.76 L897.35,537.88 L897.60,542.45 L897.85,546.34 L898.10,549.53 L898.35,552.04 L898.60,553.96 L898.85,555.38 L899.10,556.43 L899.35,557.20 L899.60,557.76 L899.85,558.19 L900.10,558.52 L900.35,558.79 L900.60,559.01 L900.85,559.21 L901.10,559.38 L901.35,559.53 L901.60,559.66 L901.85,559.79 L902.10,559.90 L902.35,560.00 L902.60,560.09 L902.85,560.17 L903.10,560.25 L903.35,560.32 L903.60,560.38 L903.85,560.44 L904.10,560.49 L904.35,560.54 L904.60,560.58 L904.85,560.62 L905.10,560.65 L905.35,560.68 L905.60,560.71 L905.60,561.00 Z" fill="#E0C8A4" fill-opacity="0.22" stroke="#E0C8A4" stroke-width="0.9" stroke-opacity="0.9"/>
<text transform="translate(897.2,503.8) rotate(-90)" font-size="4.6" fill="#E0C8A4" fill-opacity="0.9">EYL</text>
<line x1="670.2" y1="381" x2="670.2" y2="561.5" stroke="#555" stroke-width="0.8"/>
<line x1="670" y1="561" x2="954" y2="561" stroke="#C070C0" stroke-width="1.3"/>
<line x1="670" y1="561.8" x2="954" y2="561.8" stroke="#888" stroke-width="0.5"/>
<line x1="667.7" y1="561.00" x2="670.2" y2="561.00" stroke="#555" stroke-width="0.6"/>
<line x1="668.7" y1="557.03" x2="670.2" y2="557.03" stroke="#555" stroke-width="0.6"/>
<line x1="668.7" y1="553.07" x2="670.2" y2="553.07" stroke="#555" stroke-width="0.6"/>
<line x1="668.7" y1="549.10" x2="670.2" y2="549.10" stroke="#555" stroke-width="0.6"/>
<line x1="668.7" y1="545.14" x2="670.2" y2="545.14" stroke="#555" stroke-width="0.6"/>
<line x1="667.7" y1="541.17" x2="670.2" y2="541.17" stroke="#555" stroke-width="0.6"/>
<line x1="668.7" y1="537.20" x2="670.2" y2="537.20" stroke="#555" stroke-width="0.6"/>
<line x1="668.7" y1="533.24" x2="670.2" y2="533.24" stroke="#555" stroke-width="0.6"/>
<line x1="668.7" y1="529.27" x2="670.2" y2="529.27" stroke="#555" stroke-width="0.6"/>
<line x1="668.7" y1="525.31" x2="670.2" y2="525.31" stroke="#555" stroke-width="0.6"/>
<line x1="667.7" y1="521.34" x2="670.2" y2="521.34" stroke="#555" stroke-width="0.6"/>
<line x1="668.7" y1="517.37" x2="670.2" y2="517.37" stroke="#555" stroke-width="0.6"/>
<line x1="668.7" y1="513.41" x2="670.2" y2="513.41" stroke="#555" stroke-width="0.6"/>
<line x1="668.7" y1="509.44" x2="670.2" y2="509.44" stroke="#555" stroke-width="0.6"/>
<line x1="668.7" y1="505.48" x2="670.2" y2="505.48" stroke="#555" stroke-width="0.6"/>
<line x1="667.7" y1="501.51" x2="670.2" y2="501.51" stroke="#555" stroke-width="0.6"/>
<line x1="668.7" y1="497.54" x2="670.2" y2="497.54" stroke="#555" stroke-width="0.6"/>
<line x1="668.7" y1="493.58" x2="670.2" y2="493.58" stroke="#555" stroke-width="0.6"/>
<line x1="668.7" y1="489.61" x2="670.2" y2="489.61" stroke="#555" stroke-width="0.6"/>
<line x1="668.7" y1="485.65" x2="670.2" y2="485.65" stroke="#555" stroke-width="0.6"/>
<line x1="667.7" y1="481.68" x2="670.2" y2="481.68" stroke="#555" stroke-width="0.6"/>
<line x1="668.7" y1="477.71" x2="670.2" y2="477.71" stroke="#555" stroke-width="0.6"/>
<line x1="668.7" y1="473.75" x2="670.2" y2="473.75" stroke="#555" stroke-width="0.6"/>
<line x1="668.7" y1="469.78" x2="670.2" y2="469.78" stroke="#555" stroke-width="0.6"/>
<line x1="668.7" y1="465.82" x2="670.2" y2="465.82" stroke="#555" stroke-width="0.6"/>
<line x1="667.7" y1="461.85" x2="670.2" y2="461.85" stroke="#555" stroke-width="0.6"/>
<line x1="668.7" y1="457.88" x2="670.2" y2="457.88" stroke="#555" stroke-width="0.6"/>
<line x1="668.7" y1="453.92" x2="670.2" y2="453.92" stroke="#555" stroke-width="0.6"/>
<line x1="668.7" y1="449.95" x2="670.2" y2="449.95" stroke="#555" stroke-width="0.6"/>
<line x1="668.7" y1="445.99" x2="670.2" y2="445.99" stroke="#555" stroke-width="0.6"/>
<line x1="667.7" y1="442.02" x2="670.2" y2="442.02" stroke="#555" stroke-width="0.6"/>
<line x1="668.7" y1="438.05" x2="670.2" y2="438.05" stroke="#555" stroke-width="0.6"/>
<line x1="668.7" y1="434.09" x2="670.2" y2="434.09" stroke="#555" stroke-width="0.6"/>
<line x1="668.7" y1="430.12" x2="670.2" y2="430.12" stroke="#555" stroke-width="0.6"/>
<line x1="668.7" y1="426.16" x2="670.2" y2="426.16" stroke="#555" stroke-width="0.6"/>
<line x1="667.7" y1="422.19" x2="670.2" y2="422.19" stroke="#555" stroke-width="0.6"/>
<line x1="668.7" y1="418.22" x2="670.2" y2="418.22" stroke="#555" stroke-width="0.6"/>
<line x1="668.7" y1="414.26" x2="670.2" y2="414.26" stroke="#555" stroke-width="0.6"/>
<line x1="668.7" y1="410.29" x2="670.2" y2="410.29" stroke="#555" stroke-width="0.6"/>
<line x1="668.7" y1="406.33" x2="670.2" y2="406.33" stroke="#555" stroke-width="0.6"/>
<line x1="667.7" y1="402.36" x2="670.2" y2="402.36" stroke="#555" stroke-width="0.6"/>
<line x1="668.7" y1="398.39" x2="670.2" y2="398.39" stroke="#555" stroke-width="0.6"/>
<line x1="668.7" y1="394.43" x2="670.2" y2="394.43" stroke="#555" stroke-width="0.6"/>
<line x1="668.7" y1="390.46" x2="670.2" y2="390.46" stroke="#555" stroke-width="0.6"/>
<line x1="668.7" y1="386.50" x2="670.2" y2="386.50" stroke="#555" stroke-width="0.6"/>
<line x1="667.7" y1="382.53" x2="670.2" y2="382.53" stroke="#555" stroke-width="0.6"/>
<text x="667" y="562.80" font-size="5.2" fill="#333" text-anchor="end">0</text>
<text x="667" y="542.97" font-size="5.2" fill="#333" text-anchor="end">100</text>
<text x="667" y="523.14" font-size="5.2" fill="#333" text-anchor="end">200</text>
<text x="667" y="503.31" font-size="5.2" fill="#333" text-anchor="end">300</text>
<text x="667" y="483.48" font-size="5.2" fill="#333" text-anchor="end">400</text>
<text x="667" y="463.65" font-size="5.2" fill="#333" text-anchor="end">500</text>
<text x="667" y="443.82" font-size="5.2" fill="#333" text-anchor="end">600</text>
<text x="667" y="423.99" font-size="5.2" fill="#333" text-anchor="end">700</text>
<text x="667" y="404.16" font-size="5.2" fill="#333" text-anchor="end">800</text>
<text x="667" y="384.33" font-size="5.2" fill="#333" text-anchor="end">900</text>
<text x="670.8" y="568" font-size="5.4" fill="#333" text-anchor="middle">20</text>
<text x="738.0" y="568" font-size="5.4" fill="#333" text-anchor="middle">30</text>
<text x="805.2" y="568" font-size="5.4" fill="#333" text-anchor="middle">40</text>
<text x="872.4" y="568" font-size="5.4" fill="#333" text-anchor="middle">50</text>
<text x="939.6" y="568" font-size="5.4" fill="#333" text-anchor="middle">60</text>
<line x1="670.80" y1="561" x2="670.80" y2="562.8" stroke="#777" stroke-width="0.5"/>
<line x1="684.24" y1="561" x2="684.24" y2="562.8" stroke="#777" stroke-width="0.5"/>
<line x1="697.68" y1="561" x2="697.68" y2="562.8" stroke="#777" stroke-width="0.5"/>
<line x1="711.12" y1="561" x2="711.12" y2="562.8" stroke="#777" stroke-width="0.5"/>
<line x1="724.56" y1="561" x2="724.56" y2="562.8" stroke="#777" stroke-width="0.5"/>
<line x1="738.00" y1="561" x2="738.00" y2="562.8" stroke="#777" stroke-width="0.5"/>
<line x1="751.44" y1="561" x2="751.44" y2="562.8" stroke="#777" stroke-width="0.5"/>
<line x1="764.88" y1="561" x2="764.88" y2="562.8" stroke="#777" stroke-width="0.5"/>
<line x1="778.32" y1="561" x2="778.32" y2="562.8" stroke="#777" stroke-width="0.5"/>
<line x1="791.76" y1="561" x2="791.76" y2="562.8" stroke="#777" stroke-width="0.5"/>
<line x1="805.20" y1="561" x2="805.20" y2="562.8" stroke="#777" stroke-width="0.5"/>
<line x1="818.64" y1="561" x2="818.64" y2="562.8" stroke="#777" stroke-width="0.5"/>
<line x1="832.08" y1="561" x2="832.08" y2="562.8" stroke="#777" stroke-width="0.5"/>
<line x1="845.52" y1="561" x2="845.52" y2="562.8" stroke="#777" stroke-width="0.5"/>
<line x1="858.96" y1="561" x2="858.96" y2="562.8" stroke="#777" stroke-width="0.5"/>
<line x1="872.40" y1="561" x2="872.40" y2="562.8" stroke="#777" stroke-width="0.5"/>
<line x1="885.84" y1="561" x2="885.84" y2="562.8" stroke="#777" stroke-width="0.5"/>
<line x1="899.28" y1="561" x2="899.28" y2="562.8" stroke="#777" stroke-width="0.5"/>
<line x1="912.72" y1="561" x2="912.72" y2="562.8" stroke="#777" stroke-width="0.5"/>
<line x1="926.16" y1="561" x2="926.16" y2="562.8" stroke="#777" stroke-width="0.5"/>
<line x1="939.60" y1="561" x2="939.60" y2="562.8" stroke="#777" stroke-width="0.5"/>
<line x1="953.04" y1="561" x2="953.04" y2="562.8" stroke="#777" stroke-width="0.5"/>
<text x="797.6" y="575" font-size="5.3" font-weight="bold" fill="#222" textLength="29" lengthAdjust="spacingAndGlyphs">Retention Time</text>
<text transform="translate(656,487.3) rotate(-90)" font-size="4.6" font-weight="bold" fill="#222" textLength="31" lengthAdjust="spacingAndGlyphs">Intensity (10^3)</text>
</g>
<!-- ===== Mass spec ===== -->
<g id="ms">
<rect x="103.8" y="406" width="106.7" height="9.7" rx="1.5" fill="url(#barT)"/>
<rect x="103.8" y="533.8" width="106.7" height="10" rx="1.5" fill="url(#barB)"/>
<rect x="246.8" y="406" width="107.2" height="9.7" rx="1.5" fill="url(#barT)"/>
<rect x="246.8" y="533.8" width="107.2" height="10" rx="1.5" fill="url(#barB)"/>
<rect x="378.3" y="406" width="107.1" height="9.7" rx="1.5" fill="url(#barT)"/>
<rect x="378.3" y="533.8" width="107.1" height="10" rx="1.5" fill="url(#barB)"/>
<rect x="177.65" y="416.65" width="4.50" height="47.70" rx="1.2" fill="url(#elec)" stroke="#2F55A4" stroke-width="1.3"/>
<rect x="178.75" y="481.35" width="5.40" height="50.70" rx="1.2" fill="url(#elec)" stroke="#2F55A4" stroke-width="1.3"/>
<rect x="399.95" y="417.25" width="6.00" height="47.40" rx="1.2" fill="url(#elec)" stroke="#2F55A4" stroke-width="1.3"/>
<rect x="401.55" y="481.35" width="6.40" height="51.00" rx="1.2" fill="url(#elec)" stroke="#2F55A4" stroke-width="1.3"/>
<polygon points="26.9,465.8 80.5,465.8 83,464 88.8,470 88.8,473.5 82.5,477.2 26.9,477.2" fill="#8FAADC"/>
<text x="58" y="474.8" font-size="11" fill="#202020" textLength="21" lengthAdjust="spacingAndGlyphs" font-weight="bold">+++</text>
<polygon points="212.8,468.3 227.5,468.3 227.5,463.3 239.2,473.8 227.5,484.2 227.5,479.6 212.8,479.6" fill="#D3D3D3"/>
<rect x="214" y="481" width="12" height="1.2" fill="#fff"/>
<polygon points="351.6,468.5 366.6,468.5 366.6,463.4 378.3,473.8 366.6,484.7 366.6,479.4 351.6,479.4" fill="#D3D3D3"/>
<rect x="352.5" y="481.3" width="11" height="1.2" fill="#fff"/>
<ellipse cx="116.4" cy="423.3" rx="4.3" ry="3.3" fill="#BDD7EE"/>
<ellipse cx="134.7" cy="424.0" rx="5.7" ry="5.0" fill="#0070C0"/>
<ellipse cx="150.5" cy="423.3" rx="4.3" ry="3.3" fill="#BDD7EE"/>
<ellipse cx="164.1" cy="433.7" rx="7.3" ry="7.2" fill="#FFC000"/>
<ellipse cx="111.0" cy="440.1" rx="7.3" ry="7.3" fill="#92D050"/>
<ellipse cx="129.7" cy="440.8" rx="4.3" ry="4.2" fill="#7030A0"/>
<ellipse cx="147.1" cy="441.7" rx="5.7" ry="5.3" fill="#C00000"/>
<ellipse cx="105.8" cy="492.4" rx="5.5" ry="5.3" fill="#C00000"/>
<ellipse cx="124.3" cy="486.4" rx="4.3" ry="3.3" fill="#BDD7EE"/>
<ellipse cx="147.0" cy="487.1" rx="4.0" ry="4.0" fill="#7030A0"/>
<ellipse cx="167.4" cy="493.1" rx="5.7" ry="5.3" fill="#C00000"/>
<ellipse cx="126.7" cy="505.6" rx="7.4" ry="7.4" fill="#92D050"/>
<ellipse cx="150.3" cy="504.7" rx="5.5" ry="5.0" fill="#0070C0"/>
<ellipse cx="109.4" cy="518.7" rx="7.3" ry="7.0" fill="#FFC000"/>
<ellipse cx="141.4" cy="519.7" rx="4.3" ry="3.3" fill="#BDD7EE"/>
<ellipse cx="164.1" cy="516.1" rx="7.3" ry="7.3" fill="#92D050"/>
<ellipse cx="196.5" cy="473.6" rx="7.8" ry="6.0" fill="#92D050"/>
<ellipse cx="196.5" cy="473.6" rx="6.0" ry="4.5" fill="none" stroke="#A9DC78" stroke-width="0.8"/>
<ellipse cx="254.0" cy="472.5" rx="6.9" ry="6.0" fill="#92D050"/>
<ellipse cx="254.0" cy="472.5" rx="5.1" ry="4.5" fill="none" stroke="#A9DC78" stroke-width="0.8"/>
<ellipse cx="389.6" cy="473.8" rx="3.4" ry="3.0" fill="#92D050"/>
<ellipse cx="473.4" cy="469.8" rx="3.5" ry="3.0" fill="#92D050"/>
<ellipse cx="489.3" cy="469.8" rx="3.5" ry="3.0" fill="#92D050"/>
<ellipse cx="389.6" cy="473.8" rx="2.4" ry="2.2" fill="#B4DC94"/>
<ellipse cx="473.4" cy="469.8" rx="2.5" ry="2.2" fill="#B4DC94"/>
<ellipse cx="489.3" cy="469.8" rx="2.5" ry="2.2" fill="#B4DC94"/>
<ellipse cx="301.2" cy="429.8" rx="3.5" ry="2.3" fill="#C5E0B4"/>
<ellipse cx="291.3" cy="440.0" rx="4.0" ry="2.5" fill="#C5E0B4"/>
<ellipse cx="312.4" cy="441.5" rx="4.0" ry="2.5" fill="#C5E0B4"/>
<ellipse cx="327.4" cy="440.5" rx="3.3" ry="5.5" fill="#4E7A30"/>
<ellipse cx="302.2" cy="449.5" rx="3.3" ry="5.5" fill="#4E7A30"/>
<ellipse cx="285.5" cy="455.7" rx="3.3" ry="5.2" fill="#4E7A30"/>
<ellipse cx="320.6" cy="454.3" rx="6.3" ry="2.3" fill="#00B050"/>
<ellipse cx="296.6" cy="464.9" rx="2.8" ry="3.8" fill="#C5E0B4"/>
<ellipse cx="317.2" cy="466.8" rx="3.3" ry="5.5" fill="#4E7A30"/>
<ellipse cx="309.7" cy="476.0" rx="3.5" ry="3.3" fill="#C5E0B4"/>
<ellipse cx="324.9" cy="485.4" rx="3.3" ry="5.5" fill="#4E7A30"/>
<ellipse cx="290.3" cy="489.9" rx="3.3" ry="5.2" fill="#4E7A30"/>
<ellipse cx="303.7" cy="491.8" rx="3.7" ry="2.5" fill="#C5E0B4"/>
<ellipse cx="315.8" cy="497.9" rx="2.7" ry="1.7" fill="#C5E0B4"/>
<ellipse cx="287.8" cy="503.7" rx="6.3" ry="2.3" fill="#00B050"/>
<ellipse cx="328.3" cy="508.3" rx="3.7" ry="2.8" fill="#C5E0B4"/>
<ellipse cx="286.5" cy="512.9" rx="3.7" ry="2.8" fill="#C5E0B4"/>
<ellipse cx="309.9" cy="520.8" rx="6.3" ry="2.3" fill="#00B050"/>
<ellipse cx="294.5" cy="523.4" rx="3.7" ry="2.3" fill="#C5E0B4"/>
<polygon points="256.13,456.85 270.13,447.86 269.10,446.26 275.20,446.50 272.89,452.15 271.86,450.55 257.87,459.55" fill="#767171"/>
<polygon points="266.90,471.00 282.60,471.00 282.60,469.10 287.60,472.60 282.60,476.10 282.60,474.20 266.90,474.20" fill="#767171"/>
<polygon points="261.56,487.37 276.58,491.92 277.13,490.10 280.90,494.90 275.10,496.80 275.65,494.98 260.64,490.43" fill="#767171"/>
</g>

<rect x="25" y="156" width="3.3" height="33" fill="#fff"/>
<!-- ===== Process texts & light arrows ===== -->
<g class="gt" font-size="16">
<text transform="scale(0.94,1)" x="138.83" y="210.00" textLength="99.47" lengthAdjust="spacing">Cellular lysis</text>
<text transform="scale(0.94,1)" x="120.43" y="229.50" textLength="137.02" lengthAdjust="spacing">Protein extraction</text>
<text transform="scale(0.94,1)" x="101.60" y="268.20" textLength="160.11" lengthAdjust="spacing" style="white-space:pre">Isotopic peptide  spike,</text>
<text transform="scale(0.94,1)" x="106.60" y="286.20" textLength="149.79" lengthAdjust="spacing">Reduction, Alkylation</text>
<text transform="scale(0.94,1)" x="118.72" y="304.20" textLength="126.06" lengthAdjust="spacing">Trypsin Digestion</text>
<text transform="scale(0.94,1)" x="344.15" y="212.00" textLength="61.70" lengthAdjust="spacing">Peptide</text>
<text transform="scale(0.94,1)" x="342.02" y="231.80" textLength="65.43" lengthAdjust="spacing">cleanup</text>
</g>
<g fill="#A6A6A6">
<polygon points="153.1,239.1 228.3,239.1 228.3,233.1 250.3,243.7 228.3,254.5 228.3,248.1 153.1,248.1"/>
<polygon points="327,240.3 372.4,240.3 372.4,234.6 393,245.4 372.4,256.6 372.4,250 327,250"/>
</g>
<rect x="202.2" y="237.9" width="27.2" height="1.1" fill="#f0f0f0"/>
</svg>
</body></html>
